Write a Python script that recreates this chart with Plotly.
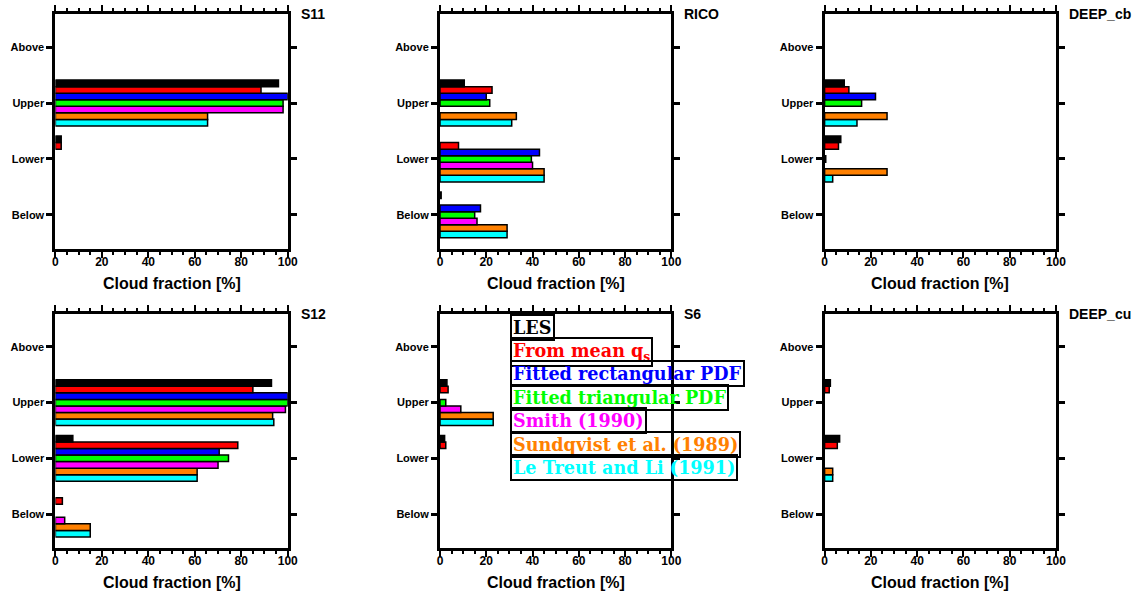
import plotly.graph_objects as go

# Cloud-layer categories (bottom to top) and the schemes compared
levels = ["Below", "Lower", "Upper", "Above"]
schemes = ["LES", "From mean q<sub>s</sub>", "Fitted rectangular PDF",
           "Fitted triangular PDF", "Smith (1990)", "Sundqvist et al. (1989)",
           "Le Treut and Li (1991)"]
scheme_colors = ["#000000", "#FF0000", "#0000FF", "#00FF00",
                 "#FF00FF", "#FF8000", "#00FFFF"]
cases = ["S11", "RICO", "DEEP_cb", "S12", "S6", "DEEP_cu"]

# Cloud fraction [%] per scheme, ordered as levels (Below, Lower, Upper, Above)
s11 = [[0, 2.5, 96, 0], [0, 2.5, 88.5, 0], [0, 0, 100, 0], [0, 0, 98, 0],
       [0, 0, 98, 0], [0, 0, 65.5, 0], [0, 0, 65.5, 0]]
rico = [[0.5, 0, 10.5, 0], [0, 8, 22.5, 0], [17.5, 43, 20, 0], [15, 39.5, 21.5, 0],
        [16, 40, 0, 0], [29, 45, 33, 0], [29, 45, 31, 0]]
deep_cb = [[0, 7, 8.5, 0], [0, 6, 10.5, 0], [0, 0, 22, 0], [0, 0.5, 16, 0],
           [0, 0, 0, 0], [0, 27, 27, 0], [0, 3.5, 14, 0]]
s12 = [[0, 7.5, 93, 0], [3, 78.5, 85, 0], [0, 70.5, 100, 0], [0, 74.5, 100, 0],
       [4, 70, 99, 0], [15, 61, 93.5, 0], [15, 61, 94, 0]]
s6 = [[0, 2, 3, 0], [0, 2.5, 3.5, 0], [0, 0, 0, 0], [0, 0, 2.5, 0],
      [0, 0, 9, 0], [0, 0, 23, 0], [0, 0, 23, 0]]
deep_cu = [[0, 6.5, 2.5, 0], [0, 5.5, 2, 0], [0, 0, 0, 0], [0, 0, 0, 0],
           [0, 0, 0, 0], [0, 3.5, 0, 0], [0, 3.5, 0, 0]]
case_values = [s11, rico, deep_cb, s12, s6, deep_cu]

x_range = [0, 100]
x_major = 20
x_minor = 5

W, H = 1148, 591
col_px = [(53, 288), (442, 676), (831, 1065)]
row_px = [(13.5, 248.5), (313.5, 547.5)]


def px_x(v):
    return v / W


def px_y(v):
    return 1 - v / H


LABEL_FONT = dict(family="Liberation Sans, Arial, sans-serif", color="black")

fig = go.Figure()
annotations = []
layout = {}

for i, (case, values) in enumerate(zip(cases, case_values)):
    n = i + 1
    r, c = divmod(i, 3)
    x0, x1 = col_px[c]
    y0, y1 = row_px[r]
    xa = "x" if n == 1 else f"x{n}"
    ya = "y" if n == 1 else f"y{n}"
    xkey = "xaxis" if n == 1 else f"xaxis{n}"
    ykey = "yaxis" if n == 1 else f"yaxis{n}"

    # bars: last trace in a group sits highest, so LES is added last
    for k in reversed(range(len(schemes))):
        vals = [v if v > 0 else None for v in values[k]]
        fig.add_trace(go.Bar(
            x=vals, y=list(range(len(levels))), orientation="h",
            marker=dict(color=scheme_colors[k], line=dict(color="black", width=1.5)),
            name=schemes[k], showlegend=False, xaxis=xa, yaxis=ya,
            hoverinfo="skip",
        ))

    layout[xkey] = dict(
        domain=[px_x(x0), px_x(x1)], anchor=ya, range=x_range,
        tickmode="linear", tick0=0, dtick=x_major,
        ticks="outside", ticklen=6, tickwidth=2, tickcolor="black",
        minor=dict(dtick=x_minor, ticks="outside", ticklen=3, tickwidth=2,
                   tickcolor="black"),
        showline=True, linewidth=3, linecolor="black", mirror="ticks",
        showgrid=False, zeroline=False, ticklabelstandoff=-6,
        tickfont=dict(size=12, weight="bold", **LABEL_FONT),
    )
    layout[ykey] = dict(
        domain=[px_y(y1), px_y(y0)], anchor=xa, range=[-0.6, 3.6],
        tickvals=list(range(len(levels))), ticktext=levels,
        ticks="outside", ticklen=6, tickwidth=3, tickcolor="black",
        showline=True, linewidth=3, linecolor="black", mirror="ticks",
        showgrid=False, zeroline=False,
        tickfont=dict(size=11, weight="bold", **LABEL_FONT),
    )

    annotations.append(dict(
        text=case, xref="paper", yref="paper", x=px_x(x1 + 11), y=px_y(y0 + 1),
        xanchor="left", yanchor="middle", showarrow=False,
        font=dict(size=14, weight="bold", **LABEL_FONT),
    ))
    annotations.append(dict(
        text="Cloud fraction [%]", xref="paper", yref="paper",
        x=px_x((x0 + x1) / 2), y=px_y(y1 + 35), xanchor="center", yanchor="middle",
        showarrow=False, font=dict(size=16, weight="bold", **LABEL_FONT),
    ))

# scheme key, stacked boxes in the S6 panel
key_left = 513
key_tops = [314, 337, 360, 384, 407, 431, 454]
for name, color, top in zip(schemes, scheme_colors, key_tops):
    annotations.append(dict(
        text=name, xref="paper", yref="paper", x=px_x(key_left), y=px_y(top),
        xanchor="left", yanchor="top", showarrow=False, align="left",
        font=dict(family="DejaVu Serif, serif", size=17.6, weight="bold", color=color),
        bordercolor="black", borderwidth=2, borderpad=1, bgcolor="rgba(0,0,0,0)",
    ))

fig.update_layout(
    width=W, height=H, margin=dict(l=0, r=0, t=0, b=0),
    paper_bgcolor="white", plot_bgcolor="white",
    barmode="group", bargap=0.18, bargroupgap=0,
    annotations=annotations, showlegend=False, **layout,
)

fig.write_html("out.html")
